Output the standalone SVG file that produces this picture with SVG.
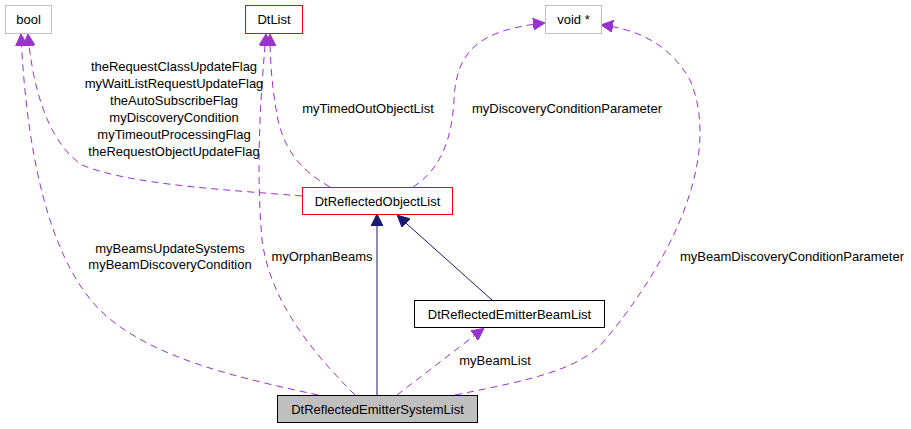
<svg xmlns="http://www.w3.org/2000/svg" width="911" height="429" viewBox="0 0 911 429">
<style>
text{font-family:"Liberation Sans",Arial,sans-serif;font-size:13px;fill:#000}
.n{fill:#fff;stroke-width:1}
.d{fill:none;stroke:#9a32cd;stroke-dasharray:7,5}
.i{fill:none;stroke:#191970}
</style>
<defs>
<marker id="pa" markerWidth="12" markerHeight="12" refX="11" refY="6" orient="auto" markerUnits="userSpaceOnUse" viewBox="0 0 12 12"><path d="M0,0L12,6L0,12z" fill="#9a32cd" stroke="#9a32cd"/></marker>
<marker id="na" markerWidth="12" markerHeight="12" refX="11" refY="6" orient="auto" markerUnits="userSpaceOnUse" viewBox="0 0 12 12"><path d="M0,0L12,6L0,12z" fill="#191970" stroke="#191970"/></marker>
</defs>
<rect width="911" height="429" fill="#fff"/>
<g id="connectors">
<path class="d" marker-end="url(#pa)" d="M302,196C230,190 130,185 82,165C45,140 32,80 28,35"/>
<path class="d" marker-end="url(#pa)" d="M318,395C250,380 150,360 100,310C40,250 25,120 21,35"/>
<path class="d" marker-end="url(#pa)" d="M330,187C300,170 285,150 278,120C272,90 270,60 270,35"/>
<path class="d" marker-end="url(#pa)" d="M355,395C310,350 270,300 262,240C255,160 262,80 266,35"/>
<path class="d" marker-end="url(#pa)" d="M413,187C440,170 452,140 454,100C456,50 480,30 544,23"/>
<path class="d" marker-end="url(#pa)" d="M455,395C530,380 580,370 605,340C680,250 720,150 690,80C670,45 640,30 602,25"/>
<path class="d" marker-end="url(#pa)" d="M397,395L483,329"/>
<path class="i" marker-end="url(#na)" d="M377,395L377,215"/>
<path class="i" marker-end="url(#na)" d="M492,300L398,216"/>
</g>
<g id="bool"><rect class="n" x="5.5" y="5.5" width="46" height="28" stroke="#bfbfbf"/><text x="28.5" y="24" text-anchor="middle">bool</text></g>
<g id="DtList"><rect class="n" x="245.5" y="5.5" width="57" height="28" stroke="#ff0000"/><text x="274" y="24" text-anchor="middle">DtList</text></g>
<g id="void"><rect class="n" x="545.5" y="5.5" width="56" height="28" stroke="#bfbfbf"/><text x="573.5" y="24" text-anchor="middle">void *</text></g>
<g id="DtReflectedObjectList"><rect class="n" x="302.5" y="187.5" width="150" height="27" stroke="#ff0000"/><text x="377.5" y="205.5" text-anchor="middle">DtReflectedObjectList</text></g>
<g id="DtReflectedEmitterBeamList"><rect class="n" x="414.5" y="300.5" width="190" height="27" stroke="#000"/><text x="509.5" y="318.5" text-anchor="middle">DtReflectedEmitterBeamList</text></g>
<g id="DtReflectedEmitterSystemList"><rect x="277.5" y="395.5" width="200" height="27" fill="#bfbfbf" stroke="#000"/><text x="377.5" y="413.5" text-anchor="middle">DtReflectedEmitterSystemList</text></g>
<g id="labels" text-anchor="middle">
<text x="174" y="71">theRequestClassUpdateFlag</text>
<text x="174" y="88">myWaitListRequestUpdateFlag</text>
<text x="174" y="105">theAutoSubscribeFlag</text>
<text x="174" y="122">myDiscoveryCondition</text>
<text x="174" y="139">myTimeoutProcessingFlag</text>
<text x="174" y="156">theRequestObjectUpdateFlag</text>
<text x="368" y="113">myTimedOutObjectList</text>
<text x="567" y="113">myDiscoveryConditionParameter</text>
<text x="170" y="253">myBeamsUpdateSystems</text>
<text x="170" y="269">myBeamDiscoveryCondition</text>
<text x="322" y="261">myOrphanBeams</text>
<text x="495" y="365">myBeamList</text>
<text x="792" y="261">myBeamDiscoveryConditionParameter</text>
</g>
</svg>
